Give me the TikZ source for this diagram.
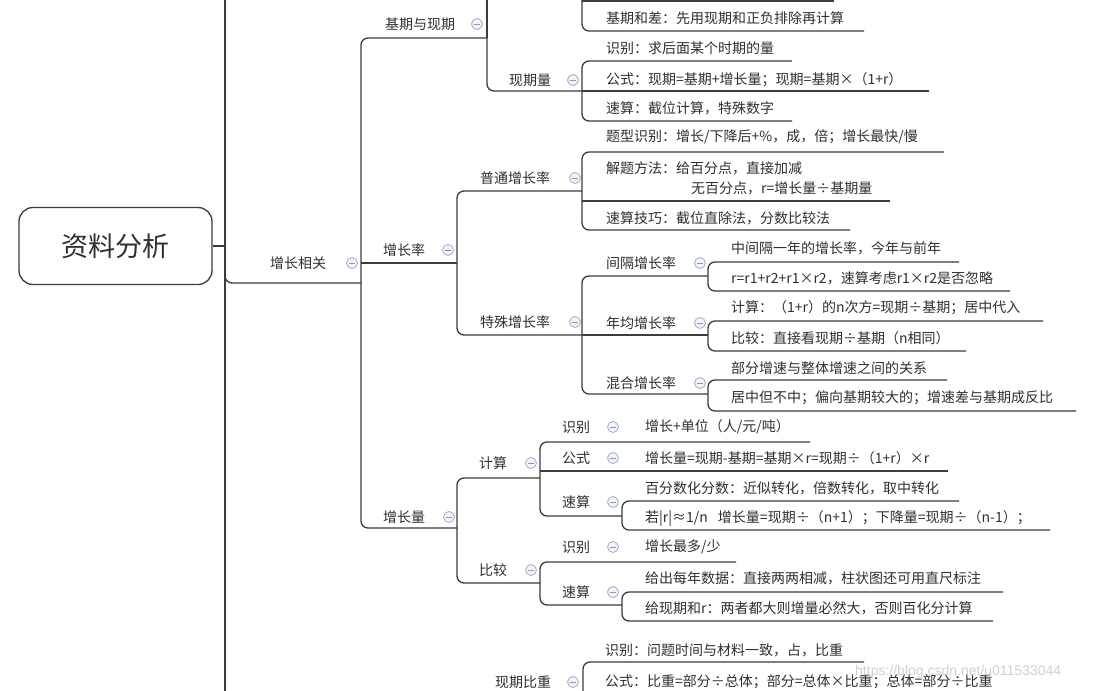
\documentclass[tikz,border=0pt]{standalone}
\usepackage{fontspec}
\setmainfont{Noto Sans CJK SC}
\newfontfamily\wmfont{Liberation Sans}
\definecolor{linec}{HTML}{3C3C3C}
\definecolor{txtc}{HTML}{303030}
\definecolor{foldc}{HTML}{A9B5CD}
\definecolor{foldf}{HTML}{F2F4F9}
\definecolor{foldm}{HTML}{8C99B4}
\tikzset{
  br/.style={line width=1.3pt, draw=linec, rounded corners=7pt},
  txt/.style={anchor=west, inner sep=0pt, text=txtc, font=\fontsize{14}{20}\selectfont},
  fold/.style={circle, draw=foldc, fill=foldf, line width=0.9pt, minimum size=11pt, inner sep=0pt,
    path picture={\draw[foldm, line width=1pt] ([xshift=-2.8pt]path picture bounding box.center) -- ([xshift=2.8pt]path picture bounding box.center);}},
  rootbox/.style={draw=linec, line width=1.3pt, rounded corners=14pt, minimum width=193pt, minimum height=77pt, inner sep=0pt, text=txtc, font=\fontsize{27}{30}\selectfont},
}
\begin{document}
\begin{tikzpicture}[x=1pt,y=-1pt]
\clip (0,0) rectangle (1096,691);
\fill[white] (0,0) rectangle (1096,691);

% ---------- root and trunk ----------
\node[rootbox] (root) at (115.5,246) {资料分析};
\coordinate (trunkTop) at (225,-5);
\coordinate (trunkBot) at (225,696);
\draw[br] (trunkTop) -- (trunkBot);
\draw[br] (root.east) -- (225,246);

% ---------- level 1 ----------
\node[txt] (zzxg) at (270,263) {增长相关};
\node[fold] (f0) at (352,263) {};
\draw[br] (225,263) |- (361,283);

% ---------- level 2 (vertical x=361) ----------
\node[txt] (jqyxq) at (385,24) {基期与现期};
\node[fold] (f1) at (477,24) {};
\draw[br] (361,283) |- (487,38);

\node[txt] (zzl) at (383,250) {增长率};
\node[fold] (f2) at (448,250) {};
\draw[br] (361,263) -- (457,263);

\node[txt] (zzlg) at (383,517) {增长量};
\node[fold] (f3) at (449,517) {};
\draw[br] (361,283) |- (457,528);

% ---------- 基期与现期 ----------
\draw[br] (487,38) -- (487,-5);
\draw[br] (487,38) |- (582,91);
\node[txt] (xql) at (509,80) {现期量};
\node[fold] (f4) at (573,80) {};

% block above (cut off)
\draw[br] (582,-5) |- (864,31);
\draw[br] (582,1) -- (834,1);
\node[txt] (jqhc) at (606,18) {基期和差：先用现期和正负排除再计算};

% 现期量 children
\draw[br] (582,91) |- (792,61);
\draw[br] (582,91) -- (929,91);
\draw[br] (582,91) |- (792,121);
\node[txt] (xq1) at (606,48) {识别：求后面某个时期的量};
\node[txt] (xq2) at (606,80) {公式：现期=基期+增长量；现期=基期×（1+r）};
\node[txt] (xq3) at (606,108) {速算：截位计算，特殊数字};

% ---------- 增长率 ----------
\draw[br] (457,263) |- (582,191);
\draw[br] (457,263) |- (582,335);
\node[txt] (ptzzl) at (480,178) {普通增长率};
\node[fold] (f5) at (575,178) {};
\node[txt] (tszzl) at (480,322) {特殊增长率};
\node[fold] (f6) at (575,322) {};

% 普通增长率 children
\draw[br] (582,191) |- (944,152);
\draw[br] (582,201) -- (890,201);
\draw[br] (582,191) |- (850,230);
\node[txt] (pt1) at (606,137) {题型识别：增长/下降后+\%，成，倍；增长最快/慢};
\node[txt, align=left] (pt2) at (606,178) {解题方法：给百分点，直接加减\\\hspace*{85pt}无百分点，r=增长量÷基期量};
\node[txt] (pt3) at (606,218) {速算技巧：截位直除法，分数比较法};

% 特殊增长率 children
\draw[br] (582,335) |- (708,276);
\draw[br] (582,335) -- (708,335);
\draw[br] (582,335) |- (708,394);
\node[txt] (jg) at (606,263) {间隔增长率};
\node[fold] (f7) at (700,263) {};
\node[txt] (nj) at (606,323) {年均增长率};
\node[fold] (f8) at (700,323) {};
\node[txt] (hh) at (606,383) {混合增长率};
\node[fold] (f9) at (700,383) {};

% 间隔增长率 children
\draw[br] (708,276) |- (959,262);
\draw[br] (708,276) |- (1010,291);
\node[txt] (jg1) at (731,248) {中间隔一年的增长率，今年与前年};
\node[txt] (jg2) at (731,278) {r=r1+r2+r1×r2，速算考虑r1×r2是否忽略};

% 年均增长率 children
\draw[br] (708,335) |- (1043,321);
\draw[br] (708,335) |- (966,351);
\node[txt] (nj1) at (731,308) {计算：（1+r）的n次方=现期÷基期；居中代入};
\node[txt] (nj2) at (731,338) {比较：直接看现期÷基期（n相同）};

% 混合增长率 children
\draw[br] (708,394) |- (947,380);
\draw[br] (708,394) |- (1076,411);
\node[txt] (hh1) at (731,368) {部分增速与整体增速之间的关系};
\node[txt] (hh2) at (731,398) {居中但不中；偏向基期较大的；增速差与基期成反比};

% ---------- 增长量 ----------
\draw[br] (457,528) |- (540,478);
\draw[br] (457,528) |- (540,583);
\node[txt] (js) at (479,463) {计算};
\node[fold] (f10) at (531,463) {};
\node[txt] (bj) at (479,570) {比较};
\node[fold] (f11) at (531,570) {};

% 计算 children
\draw[br] (540,478) |- (810,442);
\draw[br] (540,471) -- (948,471);
\draw[br] (540,478) |- (622,516);
\node[txt] (js1) at (562,427) {识别};
\node[fold] (f12) at (613,427) {};
\node[txt] (js1a) at (645,427) {增长+单位（人/元/吨）};
\node[txt] (js2) at (562,458) {公式};
\node[fold] (f13) at (613,458) {};
\node[txt] (js2a) at (645,458) {增长量=现期-基期=基期×r=现期÷（1+r）×r};
\node[txt] (js3) at (562,502) {速算};
\node[fold] (f14) at (613,502) {};

% 计算-速算 children
\draw[br] (622,516) |- (959,501);
\draw[br] (622,516) |- (1050,530);
\node[txt] (js3a) at (645,488) {百分数化分数：近似转化，倍数转化，取中转化};
\node[txt] (js3b) at (645,518) {若|r|≈1/n\hspace{10pt}增长量=现期÷（n+1）；下降量=现期÷（n-1）；};

% 比较 children
\draw[br] (540,583) |- (736,562);
\draw[br] (540,583) |- (622,605);
\node[txt] (bj1) at (562,547) {识别};
\node[fold] (f15) at (613,547) {};
\node[txt] (bj1a) at (645,547) {增长最多/少};
\node[txt] (bj2) at (562,592) {速算};
\node[fold] (f16) at (613,592) {};

% 比较-速算 children
\draw[br] (622,605) |- (1003,592);
\draw[br] (622,605) |- (993,621);
\node[txt] (bj2a) at (645,578) {给出每年数据：直接两两相减，柱状图还可用直尺标注};
\node[txt] (bj2b) at (645,608) {给现期和r：两者都大则增量必然大，否则百化分计算};

% ---------- 现期比重 (cut off at bottom) ----------
\node[txt] (xqbz) at (495,682) {现期比重};
\node[fold] (f17) at (573,682) {};
\draw[br] (583,700) |- (864,662);
\node[txt] (bz1) at (605,650) {识别：问题时间与材料一致，占，比重};
\node[txt] (bz2) at (605,682) {公式：比重=部分÷总体；部分=总体×比重；总体=部分÷比重};

% watermark
\node[anchor=west, inner sep=0pt, text=black!18, font=\wmfont\fontsize{14}{16}\selectfont] (wm) at (855,672) {https://blog.csdn.net/u011533044};
\end{tikzpicture}
\end{document}
